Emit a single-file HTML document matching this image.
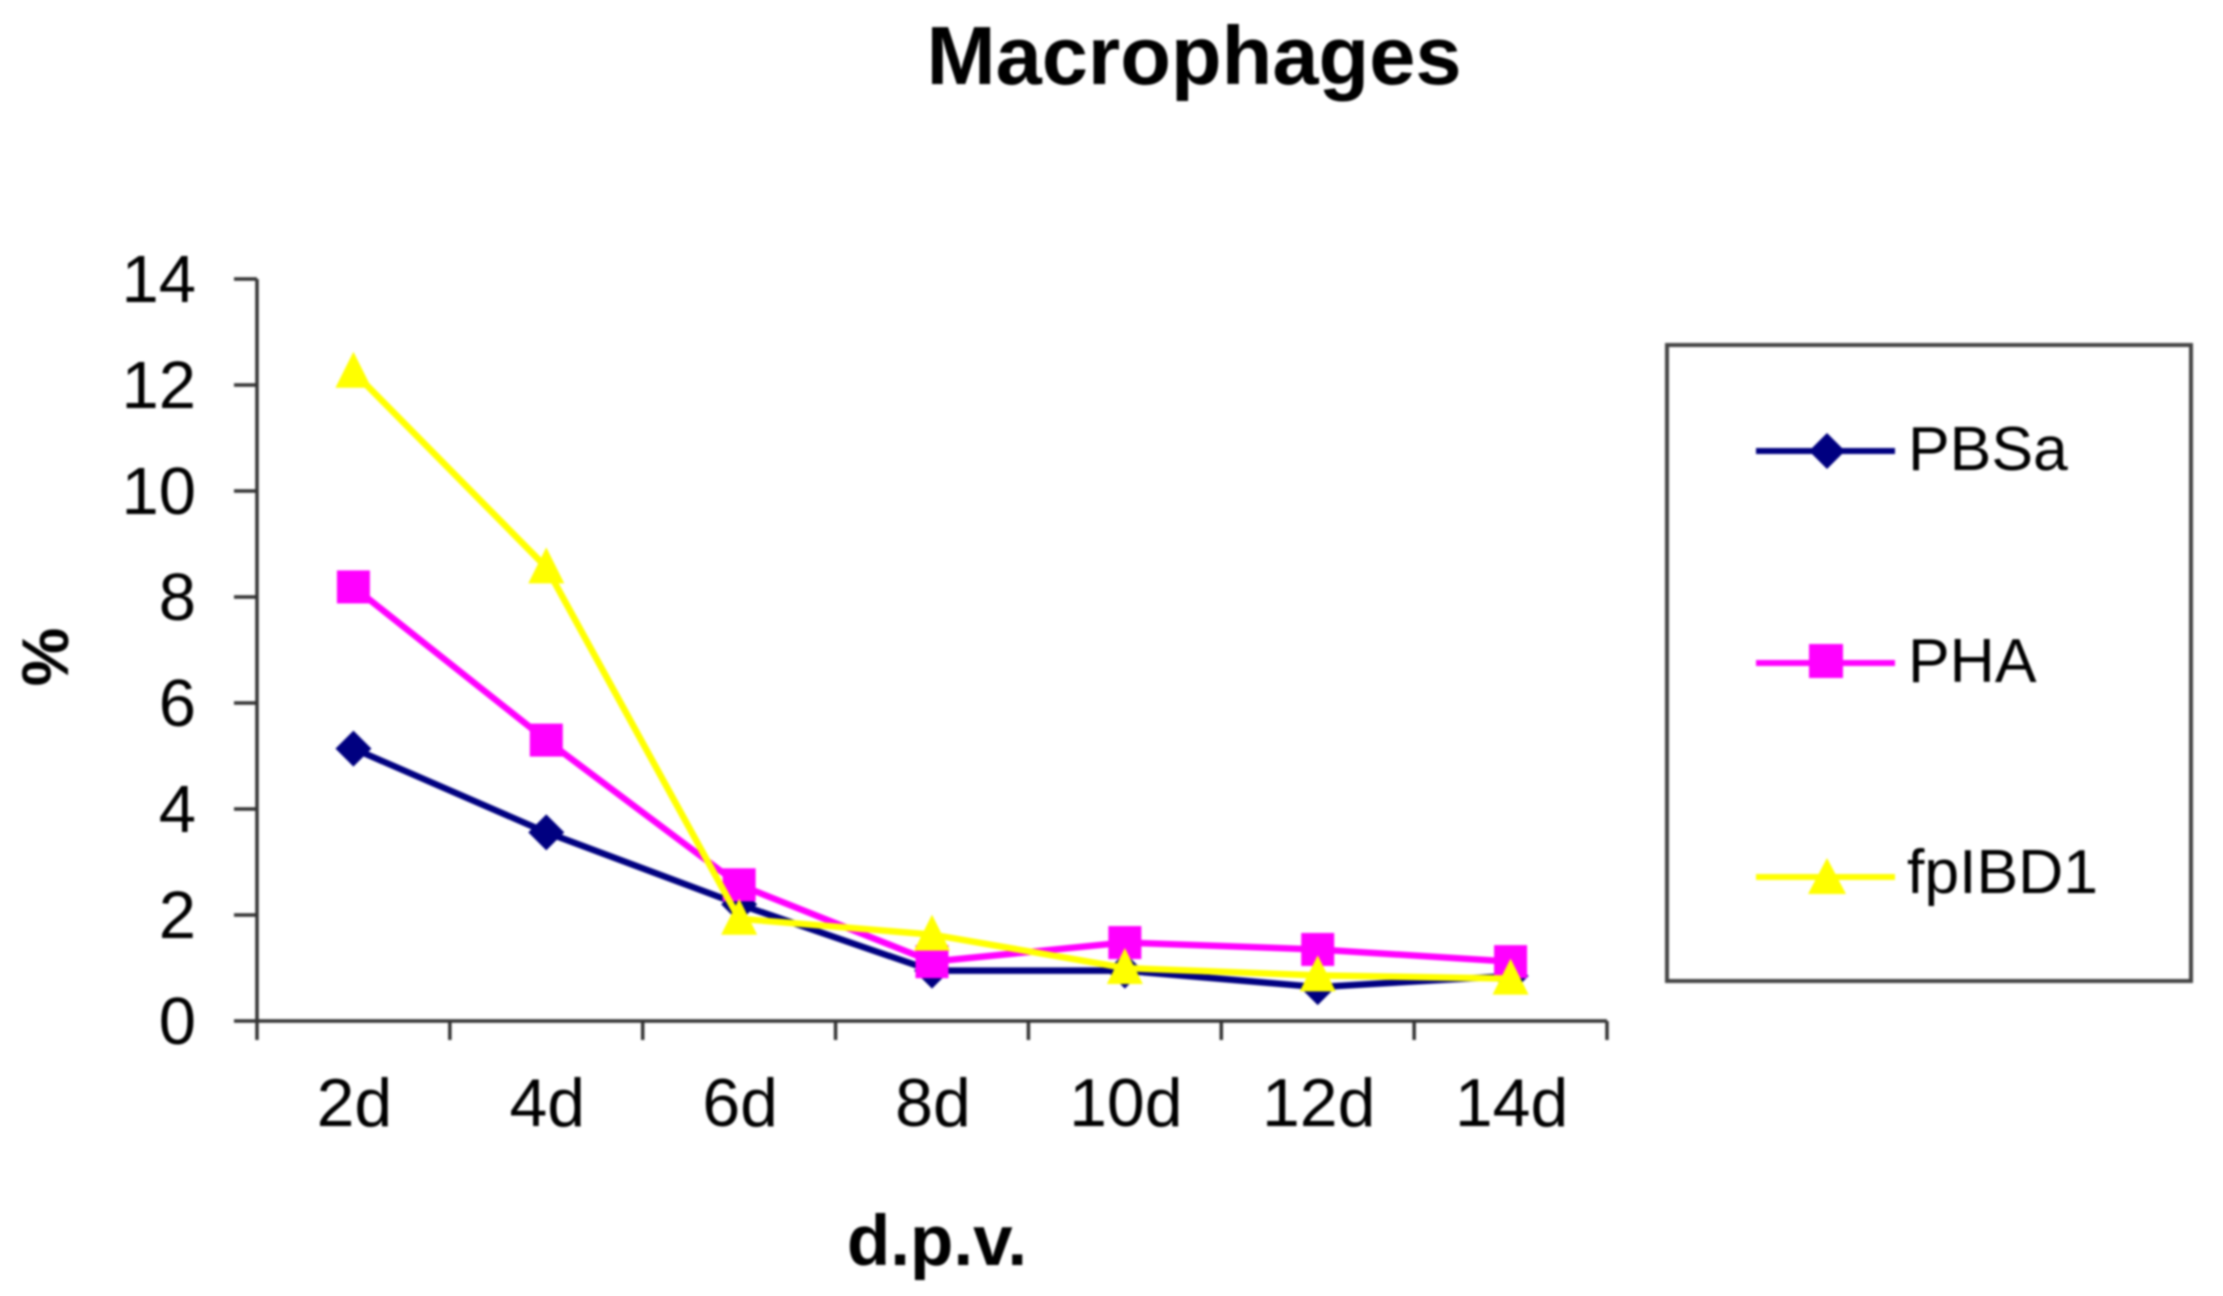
<!DOCTYPE html>
<html lang="en">
<head>
<meta charset="utf-8">
<title>Macrophages</title>
<style>
html,body{margin:0;padding:0;background:#fff;width:2223px;height:1296px;overflow:hidden}
svg{display:block;filter:blur(1px)}
text{font-family:"Liberation Sans",Arial,sans-serif;fill:#000}
</style>
</head>
<body>
<svg id="chart" width="2223" height="1296" viewBox="0 0 2223 1296" xmlns="http://www.w3.org/2000/svg">
  <text x="1194" y="84" font-size="83" font-weight="700" text-anchor="middle">Macrophages</text>
  <text x="937" y="1265" font-size="71" font-weight="700" text-anchor="middle">d.p.v.</text>
  <text transform="translate(68,657) rotate(-90)" font-size="66" font-weight="700" text-anchor="middle">%</text>
  <g id="axes"></g>
  <g id="series"></g>
  <g>
    <rect x="1667" y="345" width="524" height="636" fill="#fff" stroke="#444" stroke-width="4"/>
    <g>
      <line x1="1756" y1="451" x2="1895" y2="451" stroke="#000080" stroke-width="6"/>
      <polygon points="1827,433 1845,451 1827,469 1809,451" fill="#000080"/>
      <text x="1908" y="470" font-size="62.5">PBSa</text>
    </g>
    <g>
      <line x1="1756" y1="663" x2="1895" y2="663" stroke="#ff00ff" stroke-width="6"/>
      <rect x="1809" y="644" width="34" height="34" fill="#ff00ff"/>
      <text x="1908" y="682" font-size="62.5">PHA</text>
    </g>
    <g>
      <line x1="1756" y1="877" x2="1895" y2="877" stroke="#ffff00" stroke-width="6"/>
      <polygon points="1827,858 1846,894 1808,894" fill="#ffff00"/>
      <text x="1907" y="893" font-size="62.5">fpIBD1</text>
    </g>
  </g>
</svg>
<script>
const categories = ["2d", "4d", "6d", "8d", "10d", "12d", "14d"];
const yTicks = [0, 2, 4, 6, 8, 10, 12, 14];
const pbsaValues = [5.14, 3.56, 2.2, 0.95, 0.95, 0.64, 0.85];
const phaValues = [8.19, 5.3, 2.57, 1.12, 1.48, 1.35, 1.12];
const fpibd1Values = [12.25, 8.56, 1.93, 1.63, 1.0, 0.86, 0.8];

const NS = "http://www.w3.org/2000/svg";
const plotLeft = 257, plotRight = 1607, plotTop = 279, plotBottom = 1021, yMax = 14;
const band = (plotRight - plotLeft) / categories.length;
function xAt(i) { return plotLeft + band * (i + 0.5); }
function yAt(v) { return plotBottom - (v / yMax) * (plotBottom - plotTop); }
function make(tag, parent, attrs) {
  const el = document.createElementNS(NS, tag);
  for (const k in attrs) el.setAttribute(k, attrs[k]);
  parent.appendChild(el);
  return el;
}
const axes = document.getElementById("axes");
const seriesGroup = document.getElementById("series");
const axisStyle = { stroke: "#333", "stroke-width": 3.5 };

const yAxisLine = make("line", axes, { x1: plotLeft, y1: plotTop, x2: plotLeft, y2: plotBottom, ...axisStyle });


const xAxisLine = make("line", axes, { x1: plotLeft, y1: plotBottom, x2: plotRight, y2: plotBottom, ...axisStyle });



yTicks.forEach(function (t) {
  const y = yAt(t);
  const tick = make("line", axes, { x1: plotLeft - 23, y1: y, x2: plotLeft, y2: y, ...axisStyle });
  
  
  const label = make("text", axes, { x: 196, y: y + 23, "font-size": 67, "text-anchor": "end" });
  label.textContent = String(t);
  
  
});

for (let i = 0; i <= categories.length; i++) {
  const x = plotLeft + band * i;
  const tick = make("line", axes, { x1: x, y1: plotBottom, x2: x, y2: plotBottom + 19, ...axisStyle });
  
  
}
categories.forEach(function (c, i) {
  const label = make("text", axes, { x: xAt(i) + 1, y: 1126, "font-size": 68, "text-anchor": "middle" });
  label.textContent = c;
  
  
});

function drawLine(values, color) {
  const pts = values.map(function (v, i) { return xAt(i) + "," + yAt(v); }).join(" ");
  return make("polyline", seriesGroup, { points: pts, fill: "none", stroke: color, "stroke-width": 6.5, "stroke-linejoin": "miter" });
}

const pbsaLine = drawLine(pbsaValues, "#000080");


pbsaValues.forEach(function (v, i) {
  const x = xAt(i), y = yAt(v), r = 18;
  const m = make("polygon", seriesGroup, { points: [x, y - r, x + r, y, x, y + r, x - r, y].join(" "), fill: "#000080" });
  
  
});

const phaLine = drawLine(phaValues, "#ff00ff");


phaValues.forEach(function (v, i) {
  const s = 33;
  const m = make("rect", seriesGroup, { x: xAt(i) - s / 2, y: yAt(v) - s / 2, width: s, height: s, fill: "#ff00ff" });
  
  
});

const fpibd1Line = drawLine(fpibd1Values, "#ffff00");


fpibd1Values.forEach(function (v, i) {
  const x = xAt(i), y = yAt(v), w = 18;
  const m = make("polygon", seriesGroup, { points: [x, y - 20, x + w, y + 16, x - w, y + 16].join(" "), fill: "#ffff00" });
  
  
});
</script>
</body>
</html>
